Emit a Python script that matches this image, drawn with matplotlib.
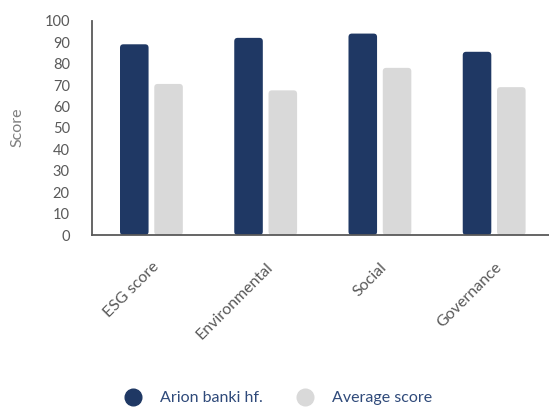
import matplotlib.pyplot as plt
from matplotlib.patches import FancyBboxPatch
from matplotlib.lines import Line2D
import numpy as np

# Chart data
categories = ['ESG score', 'Environmental', 'Social', 'Governance']
arion = [89, 92, 94, 85.5]
average = [70.5, 67.5, 78, 69]
series_names = ['Arion banki hf.', 'Average score']
colors = ['#1f3864', '#d9d9d9']

plt.rcParams['font.family'] = ['Lato', 'DejaVu Sans']

fig = plt.figure(figsize=(5.49, 4.07), dpi=100)
ax = fig.add_axes([0.1676, 0.4226, 0.8324, 0.5265])

x = np.arange(len(categories))
width = 0.25
offset = 0.15
bars1 = ax.bar(x - offset, arion, width, color=colors[0])
bars2 = ax.bar(x + offset, average, width, color=colors[1])

ax.set_xlim(-0.52, 3.48)
ax.set_ylim(0, 100)

# Replace the plain bars with rounded ones
bbox = ax.get_position()
px_x = bbox.width * 549 / 4.0
px_y = bbox.height * 407 / 100.0
aspect = px_x / px_y
for bars in (bars1, bars2):
    for b in bars:
        b.set_visible(False)
        p = FancyBboxPatch((b.get_x(), 0), b.get_width(), b.get_height(),
                           boxstyle='round,pad=0,rounding_size=0.03',
                           mutation_aspect=aspect,
                           facecolor=b.get_facecolor(), edgecolor='none')
        ax.add_patch(p)

ax.set_yticks(range(0, 101, 10))
ax.set_xticks(x)
ax.set_xticklabels(categories, rotation=45, ha='right', rotation_mode='anchor')
ax.tick_params(axis='y', length=0, pad=16, labelsize=10.5, labelcolor='#595959')
ax.tick_params(axis='x', length=0, pad=18, labelsize=11.5, labelcolor='#595959')

for s in ['top', 'right']:
    ax.spines[s].set_visible(False)
for s in ['left', 'bottom']:
    ax.spines[s].set_color('#595959')
    ax.spines[s].set_linewidth(1.3)

fig.text(0.031, 0.688, 'Score', rotation=90, ha='center', va='center',
         fontsize=11.5, color='#7f7f7f')

handles = [Line2D([0], [0], marker='o', linestyle='none', markersize=12,
                  markerfacecolor=c, markeredgecolor=c) for c in colors]
leg = fig.legend(handles, series_names, loc='center', ncol=2,
                 bbox_to_anchor=(0.5, 0.022), frameon=False, fontsize=11.5,
                 handletextpad=0.7, columnspacing=1.6)
for t in leg.get_texts():
    t.set_color('#2f4a7a')

fig.savefig('out.png', dpi=100)
